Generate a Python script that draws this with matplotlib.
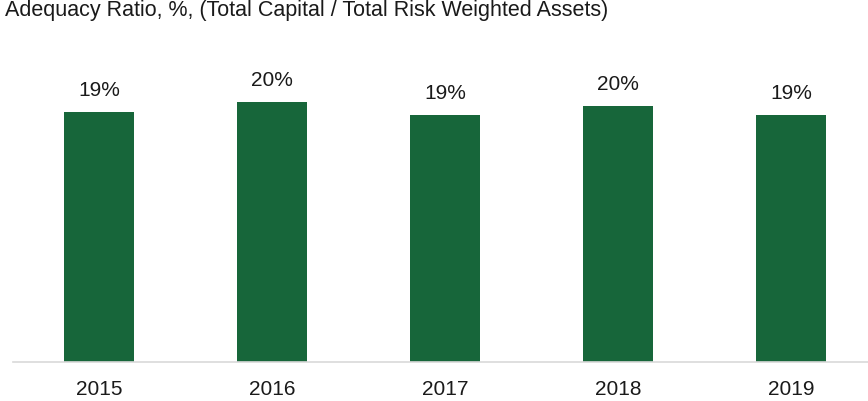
import matplotlib
matplotlib.use("Agg")
import matplotlib.pyplot as plt

plt.rcParams['font.family'] = ['Liberation Sans', 'DejaVu Sans']

years = ["2015", "2016", "2017", "2018", "2019"]
values = [19.4, 20.2, 19.2, 19.9, 19.2]
labels = ["19%", "20%", "19%", "20%", "19%"]
title = "Adequacy Ratio, %, (Total Capital / Total Risk Weighted Assets)"

W, H = 868, 401
fig = plt.figure(figsize=(W / 100, H / 100), dpi=100)
ax = fig.add_axes([12.5 / W, (H - 362) / H, 865 / W, 322 / H])

x = list(range(len(years)))
bars = ax.bar(x, values, width=0.4, color="#17663a", zorder=2)
ax.set_xlim(-0.5, 4.5)
ax.set_ylim(0, 25)

for xi, v, lab in zip(x, values, labels):
    ax.annotate(lab, (xi, v), xytext=(0, 8.5), textcoords="offset points",
                ha="center", va="bottom", fontsize=15, color="#1a1a1a")

ax.set_xticks(x)
ax.set_xticklabels(years, fontsize=15, color="#1a1a1a")
ax.tick_params(axis="x", length=0, pad=13)
ax.set_yticks([])
for s in ["top", "right", "left"]:
    ax.spines[s].set_visible(False)
ax.spines["bottom"].set_color("#d9d9d9")
ax.spines["bottom"].set_linewidth(1.2)

fig.text(5 / W, 1 - 16 / H, title, fontsize=15.5, color="#1a1a1a",
         ha="left", va="baseline")

fig.savefig("out.png", dpi=100)
